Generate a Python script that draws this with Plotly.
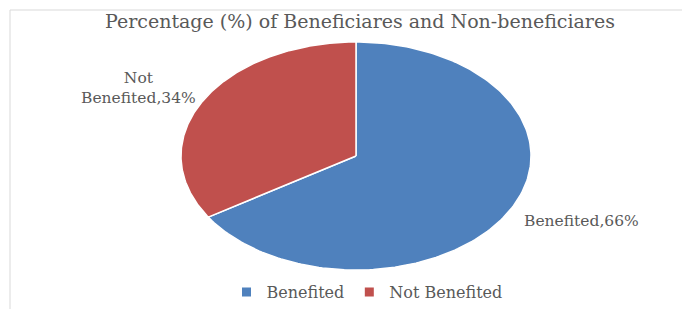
import numpy as np
import plotly.graph_objects as go

categories = ["Benefited", "Not Benefited"]
values = [66, 34]
label_texts = ["Benefited,66%", "Not<br>Benefited,34%"]
colors = ["#4F81BD", "#C0504D"]

W, H = 690, 309
OFF = 8  # page body margin
FONT = "DejaVu Serif"
GRAY = "#595959"

fig = go.Figure()
total = sum(values)
start = 0.0
for cat, val, col, lab in zip(categories, values, colors, label_texts):
    frac0 = start / total
    frac1 = (start + val) / total
    t = np.linspace(frac0, frac1, 200) * 2 * np.pi
    xs = np.concatenate([[0], np.sin(t), [0]])
    ys = np.concatenate([[0], np.cos(t), [0]])
    fig.add_trace(go.Scatter(x=xs, y=ys, mode="lines", fill="toself",
                             fillcolor=col, line=dict(color="white", width=1.5),
                             hoverinfo="skip", showlegend=False))
    mid = (frac0 + frac1) / 2 * 2 * np.pi
    mx, my = np.sin(mid), np.cos(mid)
    if mx > 0:
        ax, ay = mx * 1.08, my * 1.1 - 0.04
    else:
        ax, ay = mx * 1.03, my * 1.1 + 0.07
    fig.add_annotation(x=ax, y=ay,
                       text=lab, showarrow=False,
                       xanchor="left" if mx > 0 else "right",
                       yanchor="middle", align="center",
                       font=dict(family=FONT, size=15.5, color=GRAY))
    fig.add_trace(go.Scatter(x=[None], y=[None], mode="markers", name=cat,
                             marker=dict(symbol="square", size=9, color=col)))
    start += val

# axes map unit circle onto the stretched ellipse
cx, cy, rx, ry = 356 - OFF, 156 - OFF, 175, 114
fig.update_xaxes(range=[-cx / rx, (W - cx) / rx], visible=False, fixedrange=True)
fig.update_yaxes(range=[-(H - cy) / ry, cy / ry], visible=False, fixedrange=True)

fig.add_shape(type="rect", xref="paper", yref="paper",
              x0=(10 - OFF) / W, x1=1.05, y0=-0.1, y1=1 - (10 - OFF) / H,
              line=dict(color="#d9d9d9", width=1), fillcolor="rgba(0,0,0,0)")

fig.update_layout(
    width=W, height=H,
    margin=dict(l=0, r=0, t=0, b=0),
    paper_bgcolor="white", plot_bgcolor="white",
    title=dict(text="Percentage (%) of Beneficiares and Non-beneficiares",
               x=(360 - OFF) / W, xanchor="center", y=1 - (21 - OFF) / H, yanchor="middle",
               font=dict(family=FONT, size=19, color=GRAY)),
    legend=dict(orientation="h", x=(367 - OFF) / W, xanchor="center",
                y=1 - (292 - OFF) / H, yanchor="middle",
                font=dict(family=FONT, size=16, color=GRAY),
                itemwidth=30, tracegroupgap=0),
    showlegend=True,
)

fig.write_html("out.html")
